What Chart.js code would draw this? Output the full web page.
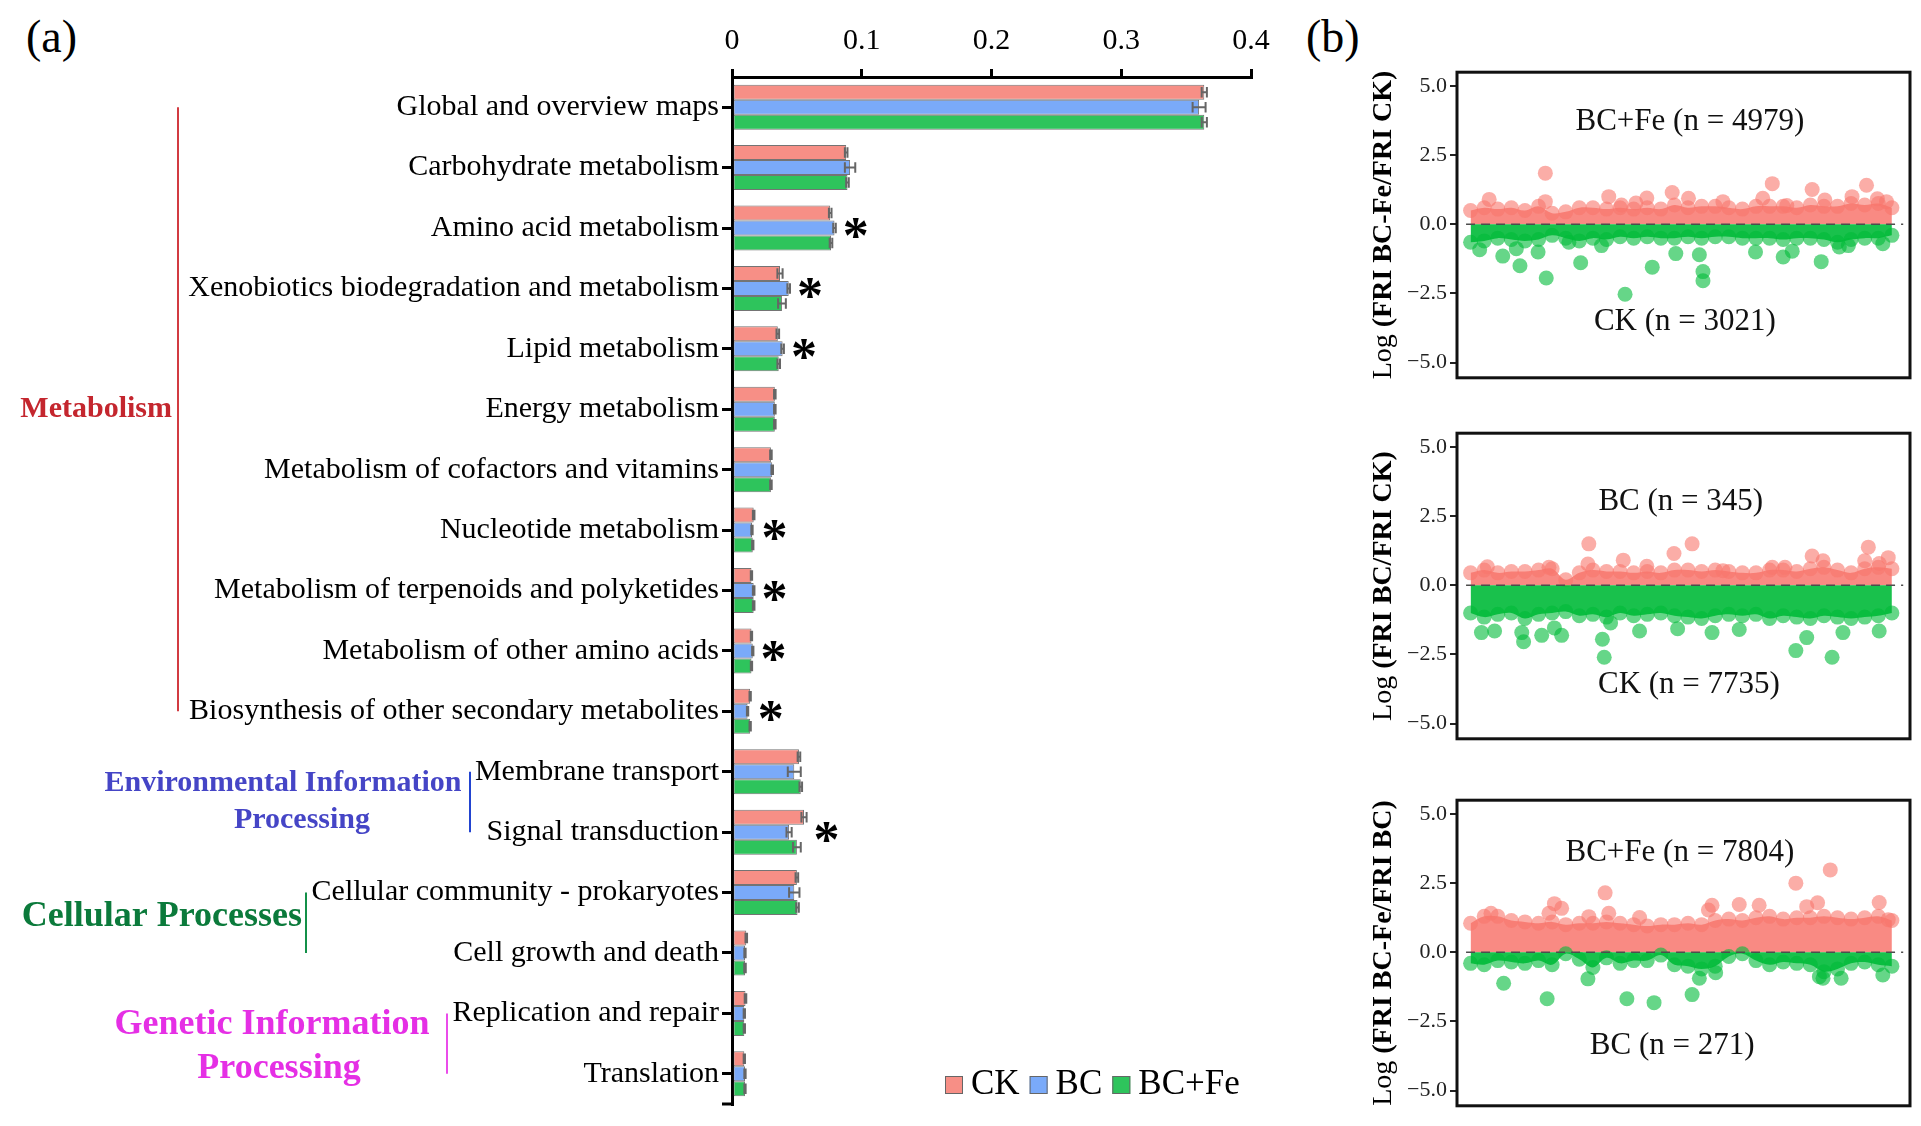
<!DOCTYPE html>
<html>
<head>
<meta charset="utf-8">
<script src="https://cdn.jsdelivr.net/npm/chart.js@4.4.0/dist/chart.umd.min.js"></script>
<style>
  html, body { margin: 0; padding: 0; background: #fff; }
  body { width: 1921px; height: 1126px; position: relative; overflow: hidden; font-family: 'Liberation Serif', serif; }
  .tag { position: absolute; font-size: 46px; line-height: 46px; color: #000; }
  canvas { position: absolute; }
</style>
</head>
<body>
<div class="tag" style="left:26px;top:14px">(a)</div>
<div class="tag" style="left:1306px;top:14px">(b)</div>
<canvas id="barChart" width="1300" height="1126" style="left:0;top:0"></canvas>
<canvas id="scatter1" width="621" height="338" style="left:1300px;top:56px"></canvas>
<canvas id="scatter2" width="621" height="338" style="left:1300px;top:417px"></canvas>
<canvas id="scatter3" width="621" height="338" style="left:1300px;top:784px"></canvas>
<script>
// ---------- panel (a) data ----------
const categories = [
  'Global and overview maps', 'Carbohydrate metabolism', 'Amino acid metabolism',
  'Xenobiotics biodegradation and metabolism', 'Lipid metabolism', 'Energy metabolism',
  'Metabolism of cofactors and vitamins', 'Nucleotide metabolism',
  'Metabolism of terpenoids and polyketides', 'Metabolism of other amino acids',
  'Biosynthesis of other secondary metabolites', 'Membrane transport', 'Signal transduction',
  'Cellular community - prokaryotes', 'Cell growth and death', 'Replication and repair', 'Translation'
];
const seriesNames = ['CK', 'BC', 'BC+Fe'];
const ckValues   = [0.364, 0.088, 0.0757, 0.037, 0.0353, 0.033, 0.030, 0.0167, 0.015, 0.015, 0.014, 0.0516, 0.0555, 0.050, 0.011, 0.0104, 0.0095];
const bcValues   = [0.360, 0.091, 0.079, 0.0437, 0.039, 0.033, 0.031, 0.0154, 0.0167, 0.016, 0.012, 0.048, 0.044, 0.048, 0.010, 0.0095, 0.010];
const bcfeValues = [0.364, 0.089, 0.0763, 0.0385, 0.036, 0.033, 0.030, 0.016, 0.0167, 0.015, 0.014, 0.053, 0.050, 0.0505, 0.010, 0.0095, 0.010];
const ckErrors   = [0.002, 0.001, 0.001, 0.002, 0.001, 0.0006, 0.0006, 0.0006, 0.0005, 0.0005, 0.0005, 0.001, 0.002, 0.001, 0.0006, 0.0006, 0.0005];
const bcErrors   = [0.005, 0.004, 0.001, 0.001, 0.001, 0.0006, 0.0006, 0.0005, 0.0006, 0.0005, 0.0005, 0.005, 0.002, 0.004, 0.0005, 0.0005, 0.0005];
const bcfeErrors = [0.002, 0.001, 0.001, 0.003, 0.001, 0.0006, 0.0006, 0.0005, 0.0006, 0.0005, 0.0005, 0.001, 0.003, 0.001, 0.0006, 0.0005, 0.0005];
const significant = [false, false, true, true, true, false, false, true, true, true, true, false, true, false, false, false, false];
const xTicks = [0, 0.1, 0.2, 0.3, 0.4];

const groupLabels = [['Metabolism'], ['Environmental Information', 'Processing'], ['Cellular Processes'], ['Genetic Information', 'Processing']];
const groupFirst = [0, 11, 13, 15];
const groupLast  = [10, 12, 14, 16];

// ---------- panel (b) data ----------
const bandX = [3, 6, 9, 12, 15, 18, 21, 24, 27, 30, 33, 36, 39, 42, 45, 48, 51, 54, 57, 60, 63, 66, 69, 72, 75, 78, 81, 84, 87, 90, 93, 96];
const yTicksB = [-5, -2.5, 0, 2.5, 5];

// BC+Fe vs CK
const p1RedTop = [0.5, 0.6, 0.55, 0.6, 0.5, 0.65, 0.4, 0.45, 0.6, 0.6, 0.55, 0.6, 0.55, 0.6, 0.55, 0.7, 0.6, 0.65, 0.65, 0.6, 0.55, 0.65, 0.65, 0.65, 0.6, 0.7, 0.65, 0.65, 0.75, 0.7, 0.75, 0.6];
const p1GreenBottom = [-0.65, -0.6, -0.5, -0.55, -0.6, -0.55, -0.4, -0.5, -0.6, -0.5, -0.55, -0.45, -0.5, -0.45, -0.5, -0.5, -0.45, -0.5, -0.45, -0.45, -0.5, -0.5, -0.5, -0.55, -0.5, -0.5, -0.55, -0.65, -0.55, -0.5, -0.5, -0.4];
const p1RedOutliers = [[7.1, 0.9], [19.5, 1.85], [19.5, 0.82], [33.5, 1.0], [36.3, 0.7], [39.5, 0.77], [41.9, 0.95], [47.5, 1.15], [51.1, 0.94], [58.7, 0.82], [67.5, 0.94], [69.6, 1.47], [72.8, 0.68], [78.4, 1.26], [81.2, 0.88], [87.2, 1.0], [90.4, 1.41], [92.8, 0.92], [94.8, 0.82]];
const p1GreenOutliers = [[5.0, -0.92], [10.1, -1.15], [13.1, -0.88], [13.9, -1.5], [17.9, -1.0], [19.7, -1.94], [24.7, -0.65], [27.3, -1.39], [31.9, -0.77], [37.1, -2.53], [43.1, -1.55], [48.3, -1.06], [53.5, -1.1], [54.3, -1.71], [54.3, -2.04], [65.9, -1.0], [72.0, -1.18], [74.0, -0.97], [80.4, -1.35], [84.4, -0.82], [86.4, -0.77], [94.0, -0.7]];

// BC vs CK
const p2RedTop = [0.45, 0.55, 0.45, 0.5, 0.5, 0.55, 0.6, 0.2, 0.45, 0.55, 0.5, 0.5, 0.45, 0.5, 0.45, 0.55, 0.55, 0.5, 0.55, 0.5, 0.45, 0.45, 0.55, 0.55, 0.5, 0.6, 0.65, 0.55, 0.45, 0.6, 0.65, 0.6];
const p2GreenBottom = [-1.0, -1.15, -1.05, -1.0, -1.2, -1.05, -1.0, -0.95, -1.1, -1.05, -1.15, -1.0, -1.1, -1.05, -1.0, -1.1, -1.15, -1.2, -1.1, -1.05, -1.1, -1.05, -1.2, -1.1, -1.15, -1.2, -1.1, -1.15, -1.2, -1.15, -1.1, -1.0];
const p2RedOutliers = [[6.7, 0.67], [20.3, 0.65], [29.1, 1.5], [28.9, 0.77], [36.7, 0.91], [41.9, 0.69], [47.9, 1.15], [51.9, 1.5], [58.7, 0.53], [69.6, 0.65], [72.4, 0.65], [78.4, 1.06], [80.8, 0.89], [90.8, 1.38], [90.0, 0.89], [93.2, 0.79], [95.2, 1.0]];
const p2GreenOutliers = [[5.4, -1.71], [8.3, -1.65], [14.3, -1.71], [14.7, -2.04], [18.7, -1.81], [21.5, -1.54], [23.1, -1.81], [32.1, -1.95], [32.5, -2.6], [33.9, -1.36], [40.3, -1.65], [48.7, -1.57], [56.3, -1.71], [62.3, -1.6], [74.8, -2.36], [77.2, -1.89], [82.8, -2.6], [85.2, -1.71], [93.2, -1.65]];

// BC+Fe vs BC
const p3RedTop = [1.05, 1.3, 1.3, 1.15, 1.1, 1.05, 1.1, 1.0, 1.05, 1.05, 1.1, 1.05, 1.0, 0.95, 1.0, 1.0, 1.05, 1.0, 1.15, 1.2, 1.15, 1.25, 1.3, 1.2, 1.25, 1.25, 1.3, 1.25, 1.2, 1.25, 1.3, 1.15];
const p3GreenBottom = [-0.4, -0.45, -0.3, -0.35, -0.4, -0.3, -0.45, -0.05, -0.25, -0.55, -0.2, -0.4, -0.3, -0.3, -0.1, -0.45, -0.5, -0.6, -0.5, -0.15, -0.05, -0.3, -0.45, -0.35, -0.4, -0.45, -0.7, -0.6, -0.4, -0.35, -0.45, -0.5];
const p3RedOutliers = [[7.5, 1.41], [20.3, 1.41], [21.5, 1.76], [23.1, 1.59], [32.7, 2.15], [29.1, 1.29], [33.5, 1.41], [40.3, 1.26], [55.5, 1.53], [56.3, 1.7], [62.3, 1.73], [66.7, 1.7], [74.8, 2.5], [77.2, 1.65], [79.6, 1.79], [82.4, 2.98], [93.2, 1.8], [95.2, 1.18]];
const p3GreenOutliers = [[10.3, -1.12], [19.9, -1.68], [28.9, -0.96], [37.5, -1.68], [43.5, -1.82], [51.9, -1.53], [53.5, -0.94], [57.1, -0.74], [80.0, -0.88], [80.8, -0.94], [84.8, -0.94], [94.0, -0.82]];

// ---------- styles ----------
const SERIF = "'Liberation Serif', 'Times New Roman', serif";
const barColors = ['#f78f86', '#7aaaf9', '#2ec45c'];
const RED = 'rgba(248,118,109,', GREEN = 'rgba(0,186,56,';

// error whiskers on the bars
const errorBars = {
  id: 'errorBars',
  afterDatasetsDraw(chart) {
    const ctx = chart.ctx, x = chart.scales.x;
    ctx.save();
    ctx.strokeStyle = '#666';
    ctx.lineWidth = 2;
    chart.data.datasets.forEach((ds, di) => {
      chart.getDatasetMeta(di).data.forEach((bar, i) => {
        const { y, height } = bar.getProps(['y', 'height'], true);
        const x0 = x.getPixelForValue(ds.data[i] - ds.errors[i]);
        const x1 = x.getPixelForValue(ds.data[i] + ds.errors[i]);
        const h = height * 0.35;
        ctx.beginPath();
        ctx.moveTo(x0, y); ctx.lineTo(x1, y);
        ctx.moveTo(x0, y - h); ctx.lineTo(x0, y + h);
        ctx.moveTo(x1, y - h); ctx.lineTo(x1, y + h);
        ctx.stroke();
      });
    });
    ctx.restore();
  }
};

// significance stars
const stars = {
  id: 'stars',
  afterDatasetsDraw(chart) {
    const ctx = chart.ctx, x = chart.scales.x, yS = chart.scales.y;
    const ds = chart.data.datasets;
    ctx.save();
    ctx.font = 'bold 52px ' + SERIF;
    ctx.fillStyle = '#000';
    ctx.textAlign = 'center';
    ctx.textBaseline = 'alphabetic';
    const m = ctx.measureText('*');
    const shift = (m.actualBoundingBoxAscent - m.actualBoundingBoxDescent) / 2;
    significant.forEach((s, i) => {
      if (!s) return;
      const end = Math.max(...ds.map(d => d.data[i] + d.errors[i]));
      ctx.fillText('*', x.getPixelForValue(end) + 20, yS.getPixelForValue(i) + shift);
    });
    ctx.restore();
  }
};

// functional groups on the left
const groupStyles = [
  { color: '#c4262e', line: '#d23b41', lineX: 178, size: 30, align: 'right',  textX: [172], dy: [0] },
  { color: '#4545c6', line: '#2244d0', lineX: 470, size: 30, align: 'center', textX: [283, 302], dy: [-19, 18] },
  { color: '#0b7a3b', line: '#139048', lineX: 306, size: 36, align: 'right',  textX: [302], dy: [-6] },
  { color: '#e52fe5', line: '#ea4cea', lineX: 447, size: 36, align: 'center', textX: [272, 279], dy: [-19, 25] }
];
const groups = {
  id: 'groups',
  afterDraw(chart) {
    const ctx = chart.ctx, y = chart.scales.y;
    ctx.save();
    groupLabels.forEach((lines, g) => {
      const st = groupStyles[g];
      const y0 = y.getPixelForValue(groupFirst[g]), y1 = y.getPixelForValue(groupLast[g]);
      ctx.strokeStyle = st.line;
      ctx.lineWidth = 2;
      ctx.beginPath(); ctx.moveTo(st.lineX, y0); ctx.lineTo(st.lineX, y1); ctx.stroke();
      ctx.fillStyle = st.color;
      ctx.font = 'bold ' + st.size + 'px ' + SERIF;
      ctx.textAlign = st.align;
      ctx.textBaseline = 'middle';
      const mid = (y0 + y1) / 2;
      lines.forEach((t, k) => ctx.fillText(t, st.textX[k], mid + st.dy[k]));
    });
    // small end tick at the bottom of the category axis
    const a = chart.chartArea;
    ctx.strokeStyle = '#000'; ctx.lineWidth = 3;
    ctx.beginPath(); ctx.moveTo(a.left - 10, a.bottom); ctx.lineTo(a.left, a.bottom); ctx.stroke();
    ctx.restore();
  }
};

// legend at the bottom right of panel (a)
const barLegend = {
  id: 'barLegend',
  afterDraw(chart) {
    const ctx = chart.ctx;
    ctx.save();
    ctx.font = '35px ' + SERIF;
    ctx.textBaseline = 'alphabetic';
    ctx.textAlign = 'left';
    let x = 945;
    chart.data.datasets.forEach((ds) => {
      ctx.fillStyle = ds.backgroundColor;
      ctx.fillRect(x, 1076, 18, 18);
      ctx.strokeStyle = '#666'; ctx.lineWidth = 1;
      ctx.strokeRect(x + 0.5, 1076.5, 17, 17);
      ctx.fillStyle = '#000';
      ctx.fillText(ds.label, x + 26, 1094);
      x += 26 + ctx.measureText(ds.label).width + 10;
    });
    ctx.restore();
  }
};

new Chart(document.getElementById('barChart'), {
  type: 'bar',
  data: {
    labels: categories,
    datasets: [
      { label: seriesNames[0], data: ckValues,   errors: ckErrors,   backgroundColor: barColors[0] },
      { label: seriesNames[1], data: bcValues,   errors: bcErrors,   backgroundColor: barColors[1] },
      { label: seriesNames[2], data: bcfeValues, errors: bcfeErrors, backgroundColor: barColors[2] }
    ]
  },
  options: {
    indexAxis: 'y',
    responsive: false,
    animation: false,
    devicePixelRatio: 1,
    layout: { padding: { left: 0, right: 49, top: 0, bottom: 22 } },
    datasets: {
      bar: { categoryPercentage: 0.745, barPercentage: 1, borderWidth: 1, borderColor: 'rgba(70,70,70,0.75)', borderSkipped: false }
    },
    scales: {
      x: {
        position: 'top', min: 0, max: 0.4,
        afterBuildTicks: s => { s.ticks = xTicks.map(v => ({ value: v })); },
        afterFit: s => { s.height = 77; },
        ticks: { callback: v => (v === 0 ? '0' : v.toFixed(1)), font: { family: SERIF, size: 30 }, color: '#000', padding: 10, maxRotation: 0 },
        grid: { drawOnChartArea: false, drawTicks: true, tickLength: 8, color: '#000', lineWidth: 3 },
        border: { display: true, color: '#000', width: 3 }
      },
      y: {
        afterFit: s => { s.width = 732; },
        ticks: { font: { family: SERIF, size: 30 }, color: '#000', padding: 3, autoSkip: false },
        grid: { offset: false, drawOnChartArea: false, tickLength: 10, color: '#000', lineWidth: 3 },
        border: { display: true, color: '#000', width: 3 }
      }
    },
    plugins: { legend: { display: false }, tooltip: { enabled: false } }
  },
  plugins: [errorBars, stars, groups, barLegend]
});

// ---------- panel (b) ----------
const scatterDecor = {
  id: 'scatterDecor',
  afterDatasetsDraw(chart) {
    const { ctx, scales: { x, y } } = chart;
    ctx.save();
    ctx.strokeStyle = '#4d4d4d';
    ctx.lineWidth = 1.5;
    ctx.setLineDash([9, 6]);
    ctx.beginPath();
    ctx.moveTo(x.getPixelForValue(2), y.getPixelForValue(0));
    ctx.lineTo(x.getPixelForValue(98.5), y.getPixelForValue(0));
    ctx.stroke();
    ctx.restore();
  },
  afterDraw(chart, args, opts) {
    const { ctx, chartArea: a, scales: { x, y } } = chart;
    ctx.save();
    ctx.strokeStyle = '#111';
    ctx.lineWidth = 3;
    ctx.strokeRect(a.left, a.top, a.right - a.left, a.bottom - a.top);
    ctx.fillStyle = '#111';
    ctx.font = '31px ' + SERIF;
    ctx.textAlign = 'center';
    ctx.textBaseline = 'middle';
    opts.notes.forEach(n => ctx.fillText(n.text, x.getPixelForValue(n.x), y.getPixelForValue(n.y)));
    // y title: "Log" regular, bracket part bold
    const f1 = '28px ' + SERIF, f2 = 'bold 28px ' + SERIF;
    ctx.font = f1; const w1 = ctx.measureText(opts.title[0]).width;
    ctx.font = f2; const w2 = ctx.measureText(opts.title[1]).width;
    ctx.translate(91, (a.top + a.bottom) / 2);
    ctx.rotate(-Math.PI / 2);
    ctx.textAlign = 'left';
    ctx.textBaseline = 'alphabetic';
    ctx.fillStyle = '#000';
    ctx.font = f1; ctx.fillText(opts.title[0], -(w1 + w2) / 2, 0);
    ctx.font = f2; ctx.fillText(opts.title[1], -(w1 + w2) / 2 + w1, 0);
    ctx.restore();
  }
};

function makeScatter(id, title, redTop, greenBottom, redOut, greenOut, notes) {
  const band = (vals, c, alpha, ord) => ({
    type: 'line',
    data: bandX.map((x, i) => ({ x, y: vals[i] })),
    showLine: true, borderWidth: 0, tension: 0.35,
    fill: 'origin', backgroundColor: c + alpha + ')',
    pointRadius: 7.5, pointBackgroundColor: c + '0.6)', pointBorderWidth: 0, order: ord
  });
  const dots = (pairs, c, ord) => ({
    data: pairs.map(p => ({ x: p[0], y: p[1] })),
    pointRadius: 7.5, backgroundColor: c + '0.6)', borderWidth: 0, order: ord
  });
  return new Chart(document.getElementById(id), {
    type: 'scatter',
    data: {
      datasets: [
        dots(greenOut, GREEN, 0),
        dots(redOut, RED, 1),
        band(greenBottom, GREEN, '0.9', 2),
        band(redTop, RED, '0.85', 3)
      ]
    },
    options: {
      responsive: false,
      animation: false,
      devicePixelRatio: 1,
      layout: { padding: { left: 0, right: 11, top: 12, bottom: 12 } },
      scales: {
        x: { type: 'linear', min: 0, max: 100, display: false },
        y: {
          min: -5.55, max: 5.5,
          afterBuildTicks: s => { s.ticks = yTicksB.map(v => ({ value: v })); },
          afterFit: s => { s.width = 157; },
          ticks: { callback: v => (v < 0 ? '\u2212' + Math.abs(v).toFixed(1) : v.toFixed(1)), font: { family: SERIF, size: 22 }, color: '#222', padding: 3 },
          grid: { drawOnChartArea: false, drawTicks: true, tickLength: 7, color: '#222', lineWidth: 2 },
          border: { display: false }
        }
      },
      plugins: {
        legend: { display: false }, tooltip: { enabled: false },
        scatterDecor: { title, notes }
      }
    },
    plugins: [scatterDecor]
  });
}

makeScatter('scatter1', ['Log ', '(FRI BC-Fe/FRI CK)'], p1RedTop, p1GreenBottom, p1RedOutliers, p1GreenOutliers,
  [{ text: 'BC+Fe (n = 4979)', x: 51.4, y: 3.7 }, { text: 'CK (n = 3021)', x: 50.3, y: -3.53 }]);
makeScatter('scatter2', ['Log ', '(FRI BC/FRI CK)'], p2RedTop, p2GreenBottom, p2RedOutliers, p2GreenOutliers,
  [{ text: 'BC (n = 345)', x: 49.4, y: 3.0 }, { text: 'CK (n = 7735)', x: 51.2, y: -3.6 }]);
makeScatter('scatter3', ['Log ', '(FRI BC-Fe/FRI BC)'], p3RedTop, p3GreenBottom, p3RedOutliers, p3GreenOutliers,
  [{ text: 'BC+Fe (n = 7804)', x: 49.2, y: 3.6 }, { text: 'BC (n = 271)', x: 47.5, y: -3.4 }]);
</script>
</body>
</html>
